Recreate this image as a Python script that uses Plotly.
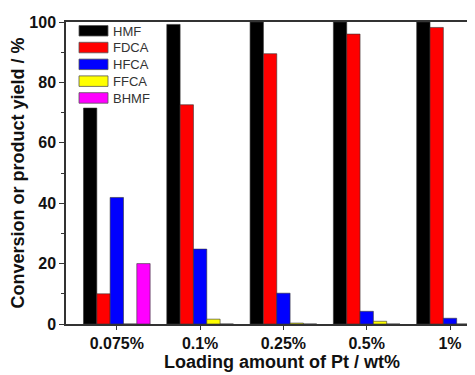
import plotly.graph_objects as go

categories = ["0.075%", "0.1%", "0.25%", "0.5%", "1%"]
series_names = ["HMF", "FDCA", "HFCA", "FFCA", "BHMF"]
hmf = [71.5, 99.2, 100, 100, 100]
fdca = [10.0, 72.6, 89.5, 96.0, 98.2]
hfca = [41.9, 24.8, 10.2, 4.2, 1.9]
ffca = [0.0, 1.6, 0.3, 0.9, 0.0]
bhmf = [20.0, 0.0, 0.0, 0.0, 0.0]
series_values = [hmf, fdca, hfca, ffca, bhmf]
colors = ["#000000", "#FF0000", "#0000FF", "#FFFF00", "#FF00FF"]
y_ticks = [0, 20, 40, 60, 80, 100]
x_title = "Loading amount of Pt / wt%"
y_title = "Conversion or product yield / %"

# page body has an 8px default margin; compensate so the plot lands where the reference is
OFF = 8
PAGE_W, PAGE_H = 475, 375
PL, PT, PR, PB = 66, 22, 475, 324  # plot area in page pixels
W, H = PAGE_W - OFF, PAGE_H - OFF
L, T = PL - OFF, PT - OFF
R = W - (PR - OFF)
B = H - (PB - OFF)
FONT = "Arial, Liberation Sans, sans-serif"
TXT = "#111111"

fig = go.Figure()
for name, vals, c in zip(series_names, series_values, colors):
    fig.add_trace(go.Bar(
        x=list(range(len(categories))), y=vals, name=name,
        marker=dict(color=c, line=dict(color="#333333", width=0.6)),
        showlegend=False,
    ))

def px2paper(x, y):
    return (x - PL) / (PR - PL), (PB - y) / (PB - PT)

shapes = []
annotations = []
for i, (name, c) in enumerate(zip(series_names, colors)):
    top = 25.5 + i * 16.8
    x0, y0 = px2paper(79, top)
    x1, y1 = px2paper(108, top + 10.5)
    shapes.append(dict(type="rect", xref="paper", yref="paper", x0=x0, x1=x1, y0=y1, y1=y0,
                       fillcolor=c, line=dict(color="#555555", width=0.8), layer="above"))
    tx, ty = px2paper(111, top + 5.5)
    annotations.append(dict(xref="paper", yref="paper", x=tx, y=ty, text=name, showarrow=False,
                            xanchor="left", yanchor="middle",
                            font=dict(family=FONT, size=13, color="#333333")))

tx, ty = px2paper(282, 362)
annotations.append(dict(xref="paper", yref="paper", x=tx, y=ty, text="<b>" + x_title + "</b>",
                        showarrow=False, xanchor="center", yanchor="middle",
                        font=dict(family=FONT, size=18, color=TXT)))

fig.update_layout(
    width=W, height=H,
    margin=dict(l=L, r=R, t=T, b=B, autoexpand=False),
    paper_bgcolor="white", plot_bgcolor="white",
    barmode="group", bargap=0.2, bargroupgap=0,
    font=dict(family=FONT, color=TXT),
    shapes=shapes, annotations=annotations,
    xaxis=dict(
        range=[-0.61, 4.3], tickmode="array", tickvals=list(range(len(categories))),
        ticktext=categories, ticks="outside", ticklen=4, tickwidth=1.2, tickcolor="#333333",
        showline=True, linecolor="#333333", linewidth=1.5, mirror=True, showgrid=False,
        zeroline=False, automargin=False,
        tickfont=dict(family=FONT, size=16, color=TXT, weight="bold"),
    ),
    yaxis=dict(
        range=[0, 100], tickmode="array", tickvals=y_ticks, ticks="outside", ticklen=5,
        tickwidth=1.2, tickcolor="#333333",
        minor=dict(ticks="outside", ticklen=3, dtick=10, tickcolor="#333333", tickwidth=1.2, showgrid=False),
        showline=True, linecolor="#333333", linewidth=1.5, mirror=False, showgrid=False,
        zeroline=False, automargin=False,
        tickfont=dict(family=FONT, size=16, color=TXT, weight="bold"),
        title=dict(text="<b>" + y_title + "</b>", standoff=3,
                   font=dict(family=FONT, size=18, color=TXT)),
    ),
)

fig.write_html("out.html")
